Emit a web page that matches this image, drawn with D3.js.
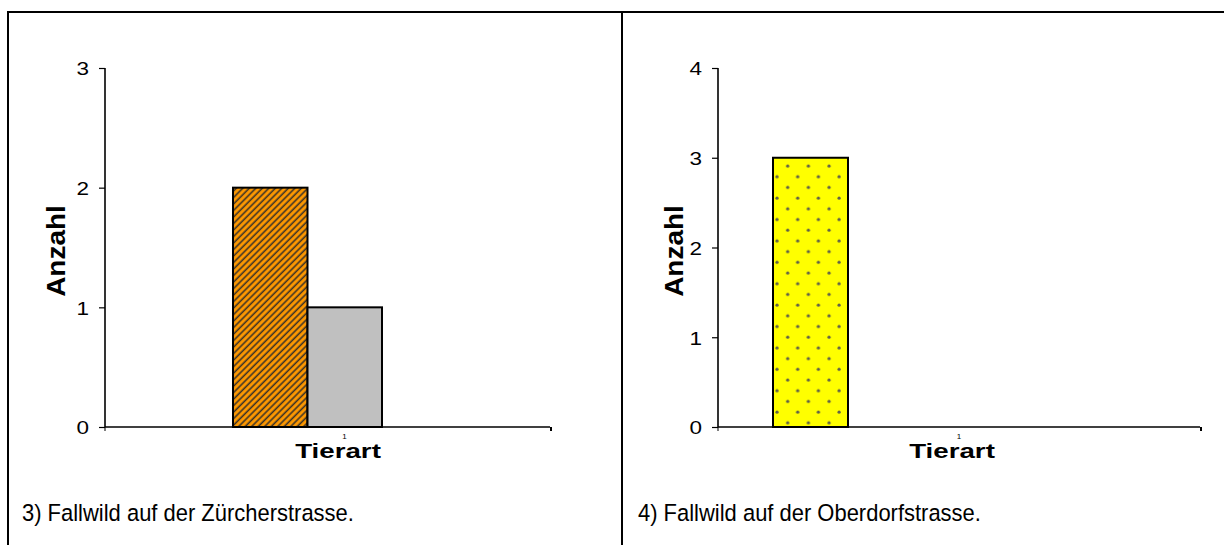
<!DOCTYPE html>
<html>
<head>
<meta charset="utf-8">
<script src="https://cdn.jsdelivr.net/npm/d3@7"></script>
<style>
  html, body { margin: 0; padding: 0; background: #fff; }
  svg { display: block; }
  text { font-family: "Liberation Sans", Arial, sans-serif; fill: #000; }
</style>
</head>
<body>
<svg id="chart" width="1224" height="545"></svg>
<script>
// ---- data ----
const categories = ["1"];
const leftSeries = ["Serie 1", "Serie 2"];
const leftValues = [2, 1];
const leftTicks = [0, 1, 2, 3];
const rightSeries = ["Serie 1"];
const rightValues = [3];
const rightTicks = [0, 1, 2, 3, 4];
const yTitle = "Anzahl";
const xTitle = "Tierart";
const leftCaption = "3) Fallwild auf der Zürcherstrasse.";
const rightCaption = "4) Fallwild auf der Oberdorfstrasse.";

const svg = d3.select("#chart");
const defs = svg.append("defs");

// hatch pattern (orange with dark diagonal stripes)
const hatch = defs.append("pattern")
  .attr("id", "hatch").attr("patternUnits", "userSpaceOnUse")
  .attr("width", 4.6).attr("height", 4.6)
  .attr("patternTransform", "rotate(45)");
hatch.append("rect").attr("width", 4.6).attr("height", 4.6).attr("fill", "#FF9900");
hatch.append("line").attr("x1", 1.2).attr("y1", 0).attr("x2", 1.2).attr("y2", 4.6)
  .attr("stroke", "#3a3228").attr("stroke-width", 1.6);

// dotted pattern (yellow with grey dots)
const dots = defs.append("pattern")
  .attr("id", "dots").attr("patternUnits", "userSpaceOnUse")
  .attr("x", 772).attr("y", 161)
  .attr("width", 20.7).attr("height", 21.4);
dots.append("rect").attr("width", 20.7).attr("height", 21.4).attr("fill", "#FFFF00");
dots.append("circle").attr("cx", 15.7).attr("cy", 5).attr("r", 1.6).attr("fill", "#5e5e48");
dots.append("circle").attr("cx", 5).attr("cy", 15.7).attr("r", 1.6).attr("fill", "#5e5e48");

// frame
const frame = svg.append("g").attr("stroke", "#000").attr("stroke-width", 2);
frame.append("line").attr("x1", 7).attr("y1", 12).attr("x2", 1224).attr("y2", 12);
frame.append("line").attr("x1", 8).attr("y1", 11).attr("x2", 8).attr("y2", 545);
frame.append("line").attr("x1", 622).attr("y1", 11).attr("x2", 622).attr("y2", 545);

function drawChart(cfg) {
  const g = svg.append("g");
  const y = d3.scaleLinear().domain([0, cfg.ticks[cfg.ticks.length - 1]]).range([427, 68]);
  const x = d3.scaleBand().domain(categories).range([cfg.x0, cfg.x1]);
  const inner = d3.scaleBand().domain(cfg.series)
    .range([x(categories[0]) + cfg.offset, x(categories[0]) + cfg.offset + cfg.barW * cfg.series.length]);

  // bars
  g.selectAll("rect.bar").data(cfg.values.map((v, i) => ({ v, s: cfg.series[i], fill: cfg.fills[i] })))
    .join("rect").attr("class", "bar")
    .attr("x", d => inner(d.s))
    .attr("width", inner.bandwidth())
    .attr("y", d => y(d.v))
    .attr("height", d => y(0) - y(d.v))
    .attr("fill", d => d.fill)
    .attr("stroke", "#000").attr("stroke-width", 2);

  // y axis
  const ya = g.append("g").attr("transform", `translate(${cfg.x0},0)`)
    .call(d3.axisLeft(y).tickValues(cfg.ticks).tickFormat(d3.format("d")).tickSize(6).tickPadding(10));
  ya.select(".domain").attr("stroke", "#000").attr("stroke-width", 1.6).attr("d", `M0,68V427`);
  ya.selectAll(".tick line").attr("stroke", "#000").attr("stroke-width", 1.2);
  ya.selectAll(".tick text")
    .attr("font-size", 18).attr("font-family", "Liberation Sans, Arial, sans-serif")
    .attr("x", 0).attr("dy", "0.36em")
    .attr("transform", "translate(-16,0) scale(1.25,1.05)");

  // x axis
  const xa = g.append("g").attr("transform", `translate(0,427)`)
    .call(d3.axisBottom(x).tickSize(0).tickPadding(6));
  xa.select(".domain").attr("stroke", "#000").attr("stroke-width", 1.6).attr("d", `M${cfg.x0},0H${cfg.x1}`);
  xa.selectAll(".tick text").attr("font-size", 8).attr("font-family", "Liberation Sans, Arial, sans-serif")
    .attr("fill", "#000")
    .attr("transform", `translate(${cfg.labelShift},0)`);
  g.append("line").attr("x1", cfg.x0).attr("x2", cfg.x0).attr("y1", 427).attr("y2", 431).attr("stroke", "#000").attr("stroke-width", 1);
  g.append("line").attr("x1", cfg.x1 + 1).attr("x2", cfg.x1 + 1).attr("y1", 427).attr("y2", 431).attr("stroke", "#000").attr("stroke-width", 2);

  // titles
  g.append("text")
    .attr("transform", `translate(${cfg.yTitleX},251) rotate(-90) scale(1.12,1)`)
    .attr("text-anchor", "middle").attr("dominant-baseline", "central")
    .attr("font-size", 25).attr("font-weight", "bold")
    .text(yTitle);
  g.append("text")
    .attr("transform", `translate(${cfg.xTitleX},458) scale(1.32,1)`)
    .attr("text-anchor", "middle")
    .attr("font-size", 21).attr("font-weight", "bold")
    .text(xTitle);

  // caption
  g.append("text")
    .attr("transform", `translate(${cfg.capX},521) scale(0.955,1.04)`)
    .attr("font-size", 23)
    .text(cfg.caption);
}

drawChart({
  x0: 105, x1: 550, offset: 128, barW: 74.5,
  series: leftSeries, values: leftValues, ticks: leftTicks,
  fills: ["url(#hatch)", "#C0C0C0"],
  yTitleX: 57, xTitleX: 338, labelShift: 17,
  capX: 22, caption: leftCaption
});
drawChart({
  x0: 718, x1: 1200, offset: 55, barW: 75,
  series: rightSeries, values: rightValues, ticks: rightTicks,
  fills: ["url(#dots)"],
  yTitleX: 675, xTitleX: 952, labelShift: 0,
  capX: 638, caption: rightCaption
});
</script>
</body>
</html>
